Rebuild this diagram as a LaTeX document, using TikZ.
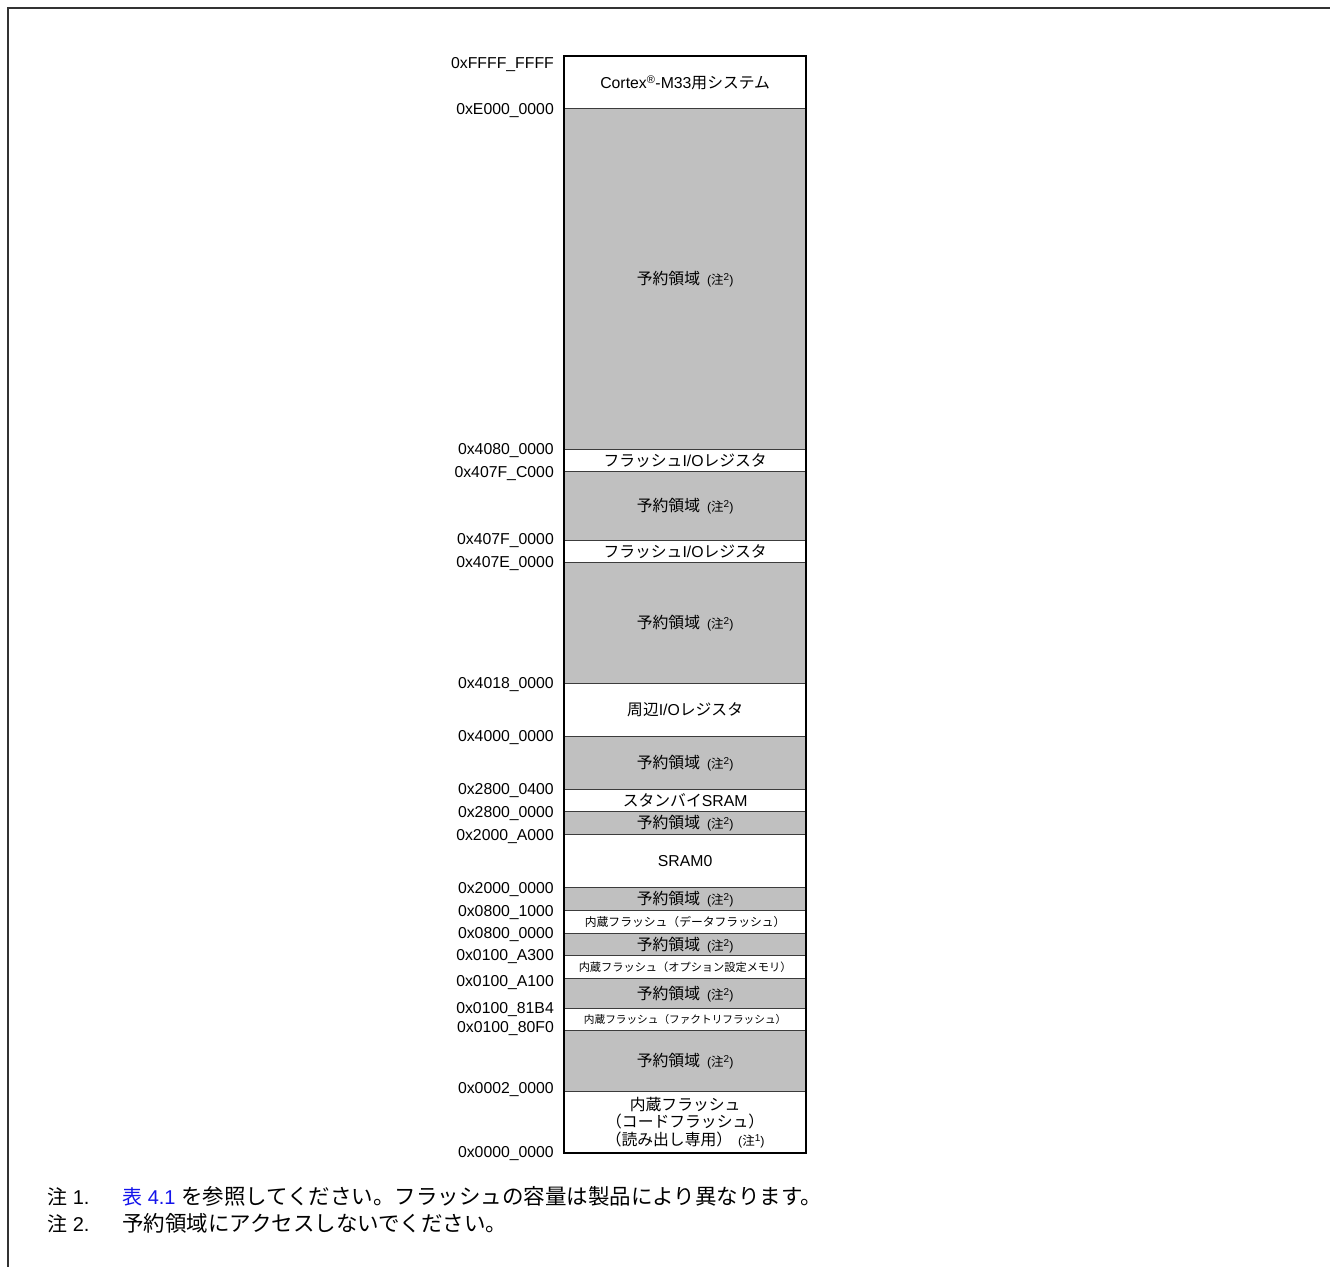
\documentclass[tikz,border=0pt]{standalone}
\usepackage{fontspec}
\setmainfont{Liberation Sans}
\newfontfamily\jp{Noto Sans CJK JP}
\definecolor{resv}{RGB}{192,192,192}
\definecolor{divl}{RGB}{60,60,60}
\definecolor{framec}{RGB}{50,50,50}
\definecolor{linkblue}{RGB}{20,20,235}
\newcommand{\fs}[1]{\fontsize{#1}{#1}\selectfont}
\newcommand{\chu}[1]{{\fs{12.5}({\jp 注}\raisebox{4pt}{\fs{10}#1})}}
\newcommand{\resv}{{\jp 予約領域}\hspace{7pt}\chu{2}}
\tikzset{
  regbox/.style={draw=divl, line width=1.3pt, minimum width=241pt, inner sep=0pt,
    anchor=north west, align=center, font=\fs{15.8}},
  resbox/.style={regbox, fill=resv},
  freebox/.style={regbox, fill=white},
  addr/.style={anchor=base east, inner sep=0pt, font=\fs{15.8}},
  fn/.style={anchor=base west, inner sep=0pt, font=\fs{20}},
}
\begin{document}
\begin{tikzpicture}[x=1pt,y=-1pt]
\useasboundingbox (0,0) rectangle (1330,1267);
\fill[white] (0,0) rectangle (1330,1267);
\draw[framec, line width=1.5pt] (1330,8) -- (8,8) -- (8,1267);

\node[freebox, minimum height=52pt] (r1) at (564,56) {Cortex\textsuperscript{®}-M33{\jp 用システム}};
\node[resbox, minimum height=341pt] (r2) at (564,108) {\resv};
\node[freebox, minimum height=22pt] (r3) at (564,449) {{\jp フラッシュ}I/O{\jp レジスタ}};
\node[resbox, minimum height=69pt] (r4) at (564,471) {\resv};
\node[freebox, minimum height=22pt] (r5) at (564,540) {{\jp フラッシュ}I/O{\jp レジスタ}};
\node[resbox, minimum height=121pt] (r6) at (564,562) {\resv};
\node[freebox, minimum height=53pt] (r7) at (564,683) {{\jp 周辺}I/O{\jp レジスタ}};
\node[resbox, minimum height=53pt] (r8) at (564,736) {\resv};
\node[freebox, minimum height=22pt] (r9) at (564,789) {{\jp スタンバイ}SRAM};
\node[resbox, minimum height=23pt] (r10) at (564,811) {\resv};
\node[freebox, minimum height=53pt] (r11) at (564,834) {SRAM0};
\node[resbox, minimum height=23pt] (r12) at (564,887) {\resv};
\node[freebox, minimum height=23pt] (r13) at (564,910) {{\jp\fs{11.8}内蔵フラッシュ（データフラッシュ）}};
\node[resbox, minimum height=22pt] (r14) at (564,933) {\resv};
\node[freebox, minimum height=23pt] (r15) at (564,955) {{\jp\fs{11.2}内蔵フラッシュ（オプション設定メモリ）}};
\node[resbox, minimum height=30pt] (r16) at (564,978) {\resv};
\node[freebox, minimum height=22pt] (r17) at (564,1008) {{\jp\fs{10.65}内蔵フラッシュ（ファクトリフラッシュ）}};
\node[resbox, minimum height=61pt] (r18) at (564,1030) {\resv};
\node[freebox, minimum height=61pt, font={\fontsize{15.8}{17.5}\selectfont}] (r19) at (564,1091)
  {{\jp 内蔵フラッシュ}\\{\jp （コードフラッシュ）}\\{\jp （読み出し専用）}\hspace{6pt}\chu{1}};
\draw[black, line width=2pt] (r1.north west) rectangle (r19.south east);

\node[addr] (a1) at (554,68.6) {0xFFFF\_FFFF};
\node[addr] (a2) at (554,114.6) {0xE000\_0000};
\node[addr] (a3) at (554,454.6) {0x4080\_0000};
\node[addr] (a4) at (554,477.6) {0x407F\_C000};
\node[addr] (a5) at (554,544.6) {0x407F\_0000};
\node[addr] (a6) at (554,567.6) {0x407E\_0000};
\node[addr] (a7) at (554,688.6) {0x4018\_0000};
\node[addr] (a8) at (554,741.6) {0x4000\_0000};
\node[addr] (a9) at (554,794.6) {0x2800\_0400};
\node[addr] (a10) at (554,817.6) {0x2800\_0000};
\node[addr] (a11) at (554,840.6) {0x2000\_A000};
\node[addr] (a12) at (554,893.6) {0x2000\_0000};
\node[addr] (a13) at (554,916.6) {0x0800\_1000};
\node[addr] (a14) at (554,938.6) {0x0800\_0000};
\node[addr] (a15) at (554,960.6) {0x0100\_A300};
\node[addr] (a16) at (554,986.6) {0x0100\_A100};
\node[addr] (a17) at (554,1013.6) {0x0100\_81B4};
\node[addr] (a18) at (554,1032.6) {0x0100\_80F0};
\node[addr] (a19) at (554,1093.6) {0x0002\_0000};
\node[addr] (a20) at (554,1157.6) {0x0000\_0000};

\node[fn] (n1) at (47,1204.6) {{\jp 注} 1.};
\node[fn] (t1) at (122,1204.6) {{\color{linkblue}{\jp 表} 4.1} {\jp\fs{21.5}を参照してください。フラッシュの容量は製品により異なります。}};
\node[fn] (n2) at (47,1231.6) {{\jp 注} 2.};
\node[fn] (t2) at (122,1231.6) {{\jp\fs{21.5}予約領域にアクセスしないでください。}};
\end{tikzpicture}
\end{document}
